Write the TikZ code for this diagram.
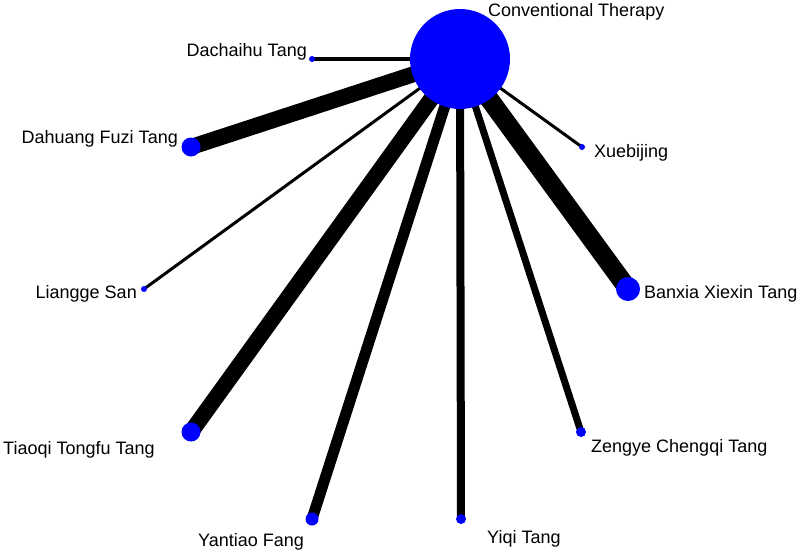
\documentclass[tikz,border=0pt]{standalone}
\usepackage{fontspec}
\setmainfont{Liberation Sans}
\usetikzlibrary{backgrounds}

\begin{document}
\begin{tikzpicture}[x=1pt, y=-1pt,
  every node/.style={circle, fill=blue, inner sep=0pt},
  txt/.style={rectangle, fill=none, inner sep=0pt, font=\fontsize{18}{18}\selectfont}]
  \useasboundingbox (0, 0) rectangle (803, 552);
  \node [minimum size=100pt] (ct) at (460, 59) {};
  \node [minimum size=6pt] (dc) at (312, 59) {};
  \node [minimum size=19pt] (dh) at (191, 147) {};
  \node [minimum size=6pt] (lg) at (144, 289) {};
  \node [minimum size=19pt] (tq) at (191, 432) {};
  \node [minimum size=13pt] (yt) at (312, 519) {};
  \node [minimum size=10pt] (yq) at (461, 519) {};
  \node [minimum size=10pt] (zy) at (581, 432) {};
  \node [minimum size=24pt] (bx) at (628, 289) {};
  \node [minimum size=6pt] (xb) at (582, 147) {};
  \node [txt, anchor=base west] (ctl) at (488, 16) {Conventional Therapy};
  \node [txt, anchor=base east] (dcl) at (307, 56) {Dachaihu Tang};
  \node [txt, anchor=base east] (dhl) at (178, 143) {Dahuang Fuzi Tang};
  \node [txt, anchor=base east] (lgl) at (137, 298) {Liangge San};
  \node [txt, anchor=base west] (tql) at (3, 454) {Tiaoqi Tongfu Tang};
  \node [txt, anchor=base west] (ytl) at (198, 546) {Yantiao Fang};
  \node [txt, anchor=base west] (yql) at (487, 543) {Yiqi Tang};
  \node [txt, anchor=base west] (zyl) at (591, 452) {Zengye Chengqi Tang};
  \node [txt, anchor=base west] (bxl) at (644, 298) {Banxia Xiexin Tang};
  \node [txt, anchor=base west] (xbl) at (594, 157) {Xuebijing};
  \begin{scope}[on background layer]
    \draw [line width=4pt] (ct.center) -- (dc.center);
    \draw [line width=16pt] (ct.center) -- (dh.center);
    \draw [line width=3pt] (ct.center) -- (lg.center);
    \draw [line width=16pt] (ct.center) -- (tq.center);
    \draw [line width=11pt] (ct.center) -- (yt.center);
    \draw [line width=8pt] (ct.center) -- (yq.center);
    \draw [line width=7pt] (ct.center) -- (zy.center);
    \draw [line width=19pt] (ct.center) -- (bx.center);
    \draw [line width=3pt] (ct.center) -- (xb.center);
  \end{scope}
\end{tikzpicture}
\end{document}
